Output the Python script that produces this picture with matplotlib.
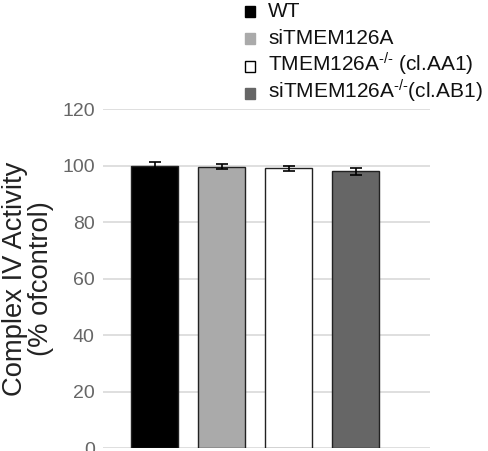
import matplotlib.pyplot as plt
import matplotlib.patches as patches

plt.rcParams['font.family'] = ['Liberation Sans', 'DejaVu Sans']
plt.rcParams['mathtext.fontset'] = 'custom'
plt.rcParams['mathtext.rm'] = 'Liberation Sans'
plt.rcParams['mathtext.it'] = 'Liberation Sans'

# Data
groups = ['WT', 'siTMEM126A', r'TMEM126A$^{\text{-/-}}$ (cl.AA1)', r'siTMEM126A$^{\text{-/-}}$(cl.AB1)']
values = [100.0, 99.6, 99.0, 98.0]
errors = [1.3, 0.8, 0.8, 1.2]
colors = ['#000000', '#aaaaaa', '#ffffff', '#666666']
yticks = [0, 20, 40, 60, 80, 100, 120]

W, H = 488, 451
fig = plt.figure(figsize=(W / 100, H / 100), dpi=100)
ax = fig.add_axes([0.211, 0.0066, 0.670, 0.7516])

x = list(range(len(values)))
ax.bar(x, values, width=0.70, color=colors, edgecolor='#222222', linewidth=1.0,
       yerr=errors, error_kw=dict(ecolor='black', elinewidth=1.2, capsize=4, capthick=1.2),
       zorder=3)

ax.set_xlim(-0.77, 4.11)
ax.set_ylim(0, 120)
ax.set_yticks(yticks)
ax.set_xticks([])
ax.tick_params(axis='y', length=0, labelsize=14, labelcolor='#666666', pad=6)
ax.grid(axis='y', color='#d9d9d9', linewidth=1.2, zorder=0)
for s in ax.spines.values():
    s.set_visible(False)

ax.set_ylabel('Complex IV Activity\n(% ofcontrol)', fontsize=19.7, color='#222222',
              labelpad=6, linespacing=1.0)

# Legend, drawn by hand so the superscripts don't change the row spacing
row_gap = 27.3  # px
for i, (label, c) in enumerate(zip(groups, colors)):
    base = 17 + i * row_gap
    sq = patches.Rectangle((245 / W, 1 - base / H), 10 / W, 11 / H, transform=fig.transFigure,
                           facecolor=c, edgecolor='black' if c == '#ffffff' else c, linewidth=1.0)
    fig.patches.append(sq)
    fig.text(268 / W, 1 - base / H, label, fontsize=15, va='baseline', ha='left', color='#111111')

fig.savefig('out.png', dpi=100)
